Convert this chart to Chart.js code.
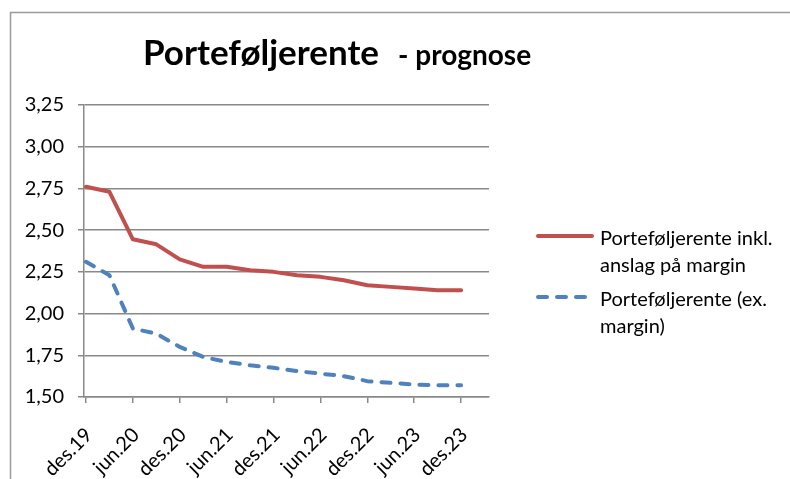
<!DOCTYPE html>
<html><head><meta charset="utf-8">
<script src="https://cdn.jsdelivr.net/npm/chart.js@4.4.1/dist/chart.umd.min.js"></script>
<style>html,body{margin:0;padding:0;background:#fff}#wrap{width:790px;height:479px;position:relative}</style>
</head><body><div id="wrap"><canvas id="c" width="790" height="479"></canvas></div>
<script>
const quarters = ['des.19','mar.20','jun.20','sep.20','des.20','mar.21','jun.21','sep.21','des.21','mar.22','jun.22','sep.22','des.22','mar.23','jun.23','sep.23','des.23'];
const xTickLabels = ['des.19','jun.20','des.20','jun.21','des.21','jun.22','des.22','jun.23','des.23'];
const seriesNames = ['Porteføljerente inkl. anslag på margin','Porteføljerente (ex. margin)'];
const inklMargin = [2.76,2.73,2.445,2.415,2.325,2.28,2.28,2.26,2.25,2.23,2.22,2.20,2.17,2.16,2.15,2.14,2.14];
const exMargin = [2.31,2.23,1.91,1.88,1.80,1.74,1.71,1.69,1.675,1.655,1.64,1.625,1.595,1.585,1.575,1.57,1.57];
const yTicks = [1.50,1.75,2.00,2.25,2.50,2.75,3.00,3.25];
const titleMain = 'Porteføljerente';
const titleSub = '- prognose';

const FONT = 'Lato';
const GRID = '#898989';
const colors = ['#C0504D','#4F81BD'];

const toXY = arr => arr.map((v,i)=>({x:i,y:v}));

const decor = {
  id:'decor',
  beforeDraw(chart){
    const ctx = chart.ctx;
    ctx.save();
    ctx.strokeStyle = '#9c9c9c';
    ctx.lineWidth = 1.5;
    ctx.beginPath();
    ctx.moveTo(790,12.5); ctx.lineTo(10.5,12.5); ctx.lineTo(10.5,479);
    ctx.stroke();
    ctx.restore();
  },
  afterDraw(chart){
    const ctx = chart.ctx;
    ctx.save();
    ctx.fillStyle = '#000';
    ctx.textBaseline = 'alphabetic';
    ctx.font = 'bold 35px ' + FONT;
    ctx.fillText(titleMain, 143, 65);
    ctx.font = 'bold 28px ' + FONT;
    ctx.fillText(titleSub, 398, 65);
    const items = chart.data.datasets;
    const tops = [239, 300];
    ctx.font = '20px ' + FONT;
    ctx.textBaseline = 'middle';
    items.forEach((ds,k)=>{
      const words = ds.label.split(' ');
      const lines = []; let cur = '';
      words.forEach(wd=>{
        const t = cur ? cur + ' ' + wd : wd;
        if (ctx.measureText(t).width > 188 && cur) { lines.push(cur); cur = wd; } else cur = t;
      });
      if (cur) lines.push(cur);
      const y0 = tops[k];
      ctx.strokeStyle = ds.borderColor;
      ctx.lineWidth = 4;
      ctx.lineCap = 'round';
      ctx.setLineDash(ds.borderDash || []);
      ctx.beginPath(); ctx.moveTo(538, y0 - 3); ctx.lineTo(592, y0 - 3); ctx.stroke();
      ctx.setLineDash([]);
      ctx.fillStyle = '#000';
      lines.forEach((ln,j)=>ctx.fillText(ln, 600, y0 + j*27));
    });
    ctx.restore();
  }
};

new Chart(document.getElementById('c'), {
  type:'line',
  data:{
    datasets:[
      {label:seriesNames[0], data:toXY(inklMargin), borderColor:colors[0], backgroundColor:colors[0], borderWidth:4, pointRadius:0, tension:0, borderCapStyle:'round', borderJoinStyle:'round'},
      {label:seriesNames[1], data:toXY(exMargin), borderColor:colors[1], backgroundColor:colors[1], borderWidth:4, pointRadius:0, tension:0, borderDash:[9,10], borderCapStyle:'round', borderJoinStyle:'round'}
    ]
  },
  options:{
    responsive:false, animation:false, devicePixelRatio:1,
    layout:{padding:{top:105,right:301,left:0,bottom:0}},
    plugins:{legend:{display:false}, tooltip:{enabled:false}, title:{display:false}},
    scales:{
      x:{type:'linear', min:-0.085, max:17.19,
        afterBuildTicks(s){ s.ticks = xTickLabels.map(l=>({value:quarters.indexOf(l)})); },
        afterFit(s){ s.height = 82; },
        ticks:{autoSkip:false, maxRotation:45, minRotation:45, padding:20, labelOffset:3, color:'#000', font:{family:FONT,size:20},
          callback:(v)=>quarters[v]},
        grid:{drawOnChartArea:false, drawTicks:true, tickLength:6, color:GRID, lineWidth:1.5},
        border:{display:true, color:GRID, width:1.5}
      },
      y:{min:1.5, max:3.25,
        afterBuildTicks(s){ s.ticks = yTicks.map(v=>({value:v})); },
        afterFit(s){ s.width = 84; },
        ticks:{padding:14, color:'#000', font:{family:FONT,size:20},
          callback:(v)=>Number(v).toFixed(2).replace('.',',')},
        grid:{color:GRID, lineWidth:1.5, tickLength:6},
        border:{display:true, color:GRID, width:1.5}
      }
    }
  },
  plugins:[decor]
});
</script></body></html>
